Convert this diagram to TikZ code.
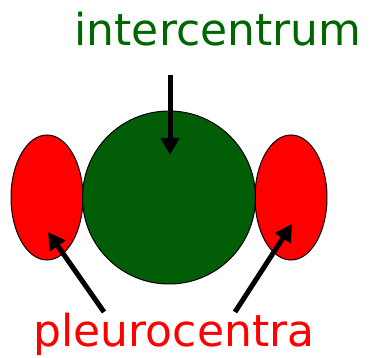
\documentclass[tikz,border=0pt]{standalone}
\usepackage{fontspec}
\setmainfont{DejaVu Sans}
\usetikzlibrary{shapes.geometric,arrows.meta}
\definecolor{bodygreen}{RGB}{2,94,6}
\definecolor{textgreen}{RGB}{0,102,0}

\begin{document}
\begin{tikzpicture}[x=1pt, y=-1pt,
        body/.style={circle, draw=black, line width=1pt, fill=bodygreen, minimum size=173pt, inner sep=0pt},
        side/.style={ellipse, draw=black, line width=1pt, fill=red, minimum width=72pt, minimum height=125pt, inner sep=0pt},
        tag/.style={font=\fontsize{44pt}{44pt}\selectfont, inner sep=0pt},
        pointer/.style={-{Triangle[length=17pt,width=18pt]}, line width=5pt}]
        \useasboundingbox (0,0) rectangle (370,358);

        % shapes
        \node[side] (lpleuro) at (47,197.5) {};
        \node[side] (rpleuro) at (291,197.5) {};
        \node[body] (inter) at (169,197.5) {};

        % labels
        \node[tag, text=textgreen, anchor=base] (intertext) at (218,46) {intercentrum};
        \node[tag, text=red, anchor=base] (pleurotext) at (174,347) {pleurocentra};

        % arrow ends
        \coordinate (itail) at (170,75);
        \coordinate (itip) at (170,155);
        \coordinate (ltail) at (104,312);
        \coordinate (ltip) at (48,232);
        \coordinate (rtail) at (235,312);
        \coordinate (rtip) at (292,224);

        % arrows
        \draw[pointer] (itail) -- (itip);
        \draw[pointer] (ltail) -- (ltip);
        \draw[pointer] (rtail) -- (rtip);
    \end{tikzpicture}
\end{document}
